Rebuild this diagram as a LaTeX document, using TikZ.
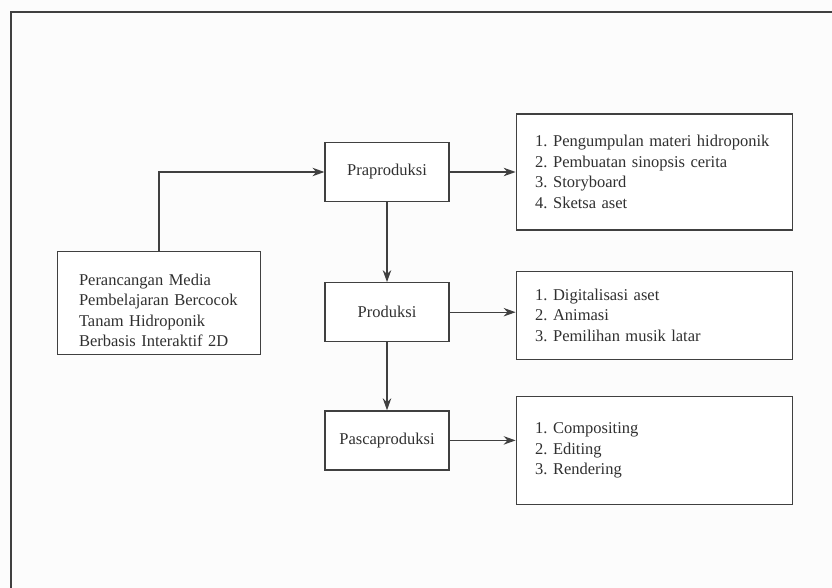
\documentclass[tikz,border=0pt]{standalone}
\usepackage{fontspec}
\setmainfont{Liberation Serif}
\usepackage{tikz}
\usetikzlibrary{arrows.meta,positioning}
\definecolor{flowline}{HTML}{404040}
\definecolor{flowtext}{HTML}{303030}
\frenchspacing
\hyphenpenalty=10000

\begin{document}
\begin{tikzpicture}[x=1pt,y=-1pt,
  stage/.style={rectangle, draw=flowline, line width=1.2pt, fill=white,
               minimum width=124pt, minimum height=59pt, text=flowtext,
               font=\fontsize{16.5}{20.5}\selectfont},
  detail/.style={rectangle, draw=flowline, line width=1.2pt, fill=white,
               minimum width=276pt, text width=238pt, align=left, text=flowtext,
               font=\fontsize{16.5}{20.5}\selectfont},
  arrow/.style={-{Stealth[length=12pt,width=8.5pt]}, line width=1.2pt, draw=flowline},
  node distance=66pt
]
  \useasboundingbox[fill=white!99!black] (0,0) rectangle (832,588);
  % frame
  \draw[flowline, line width=1.5pt] (11,588) -- (11,12) -- (832,12);

  \node[stage, minimum width=203pt, minimum height=102pt, text width=160pt, align=left,
        text height=30pt, text depth=66pt]
    (goal) at (159,303) {Perancangan Media\\Pembelajaran Bercocok\\Tanam Hidroponik\\Berbasis Interaktif 2D};
  \node[stage] (pra) at (387,172) {Praproduksi};
  \node[stage,below=80pt of pra] (prod) {Produksi};
  \node[stage,below=68pt of prod] (pasca) {Pascaproduksi};

  \node[detail,minimum height=116pt,right=of pra] (pradet)
    {1. Pengumpulan materi hidroponik\\2. Pembuatan sinopsis cerita\\3. Storyboard\\4. Sketsa aset};
  \node[detail,minimum height=88pt,right=of prod,yshift=-3pt] (proddet)
    {1. Digitalisasi aset\\2. Animasi\\3. Pemilihan musik latar};
  \node[detail,minimum height=108pt,right=of pasca,yshift=-10pt] (pascadet)
    {1. Compositing\\2. Editing\\3. Rendering};

  \draw[arrow] (goal.north) |- (pra.west);
  \draw[arrow] (pra) -- (prod);
  \draw[arrow] (prod) -- (pasca);
  \draw[arrow] (pra) -- (pradet);
  \draw[arrow] (prod.east) -- (prod.east -| proddet.west);
  \draw[arrow] (pasca.east) -- (pasca.east -| pascadet.west);
\end{tikzpicture}
\end{document}
